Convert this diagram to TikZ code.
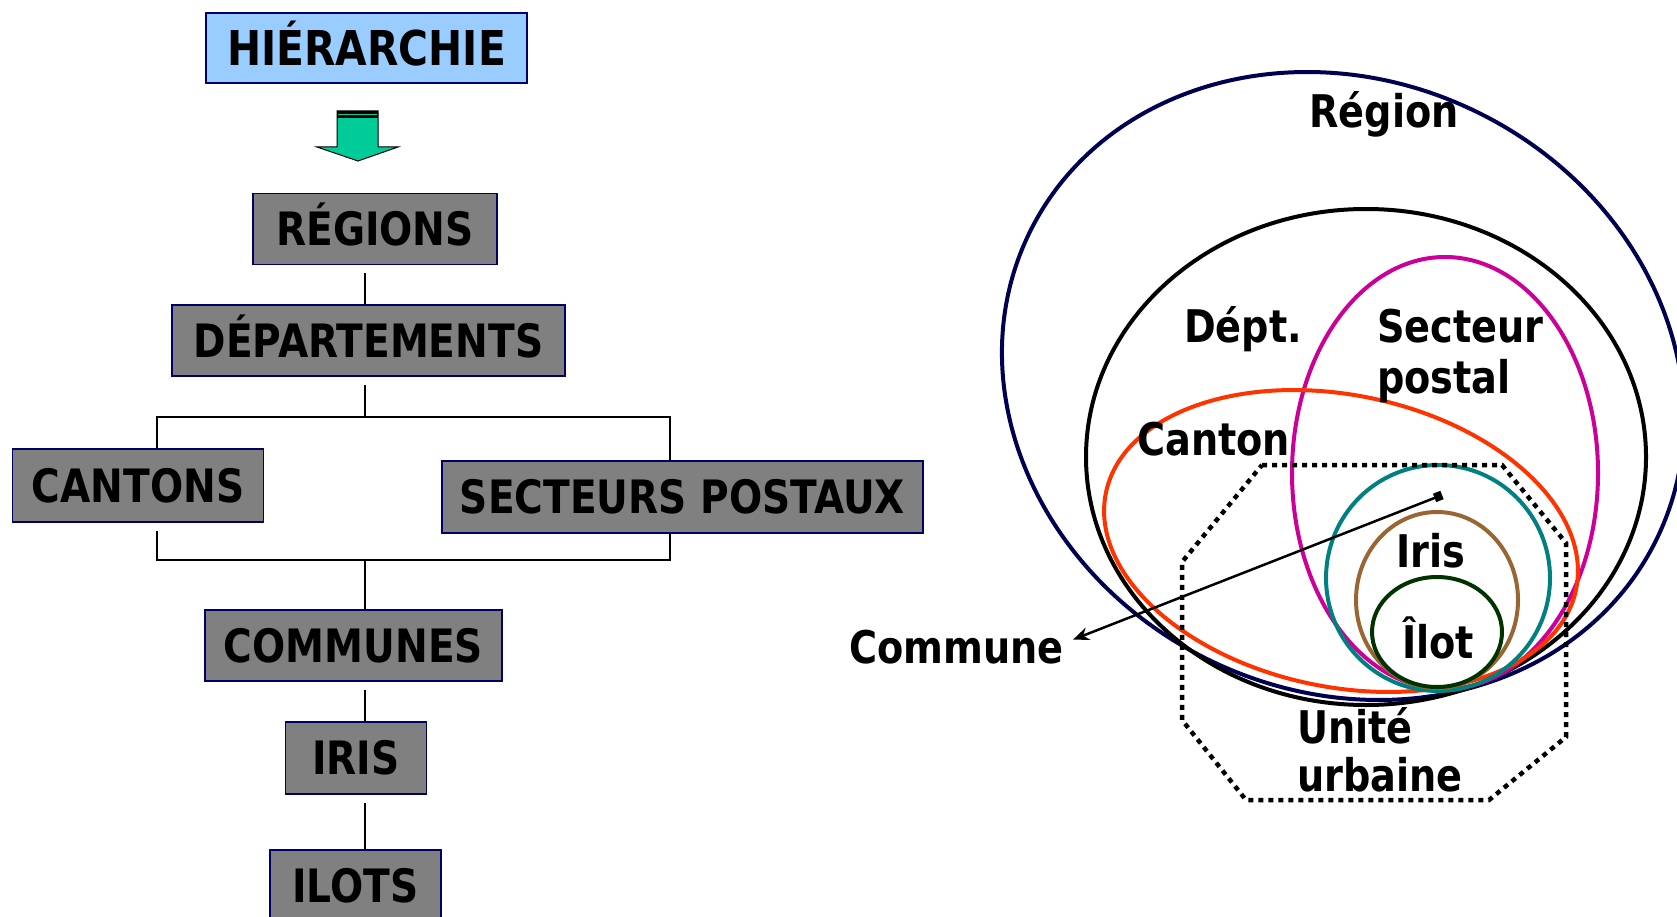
\documentclass[tikz,border=0pt]{standalone}
\usepackage{fontspec}
\newfontfamily\lbl[FakeStretch=0.85]{DejaVu Sans}
\usetikzlibrary{arrows.meta}
\definecolor{boxline}{HTML}{000066}
\definecolor{boxgray}{HTML}{808080}
\definecolor{hierblue}{HTML}{99CCFF}
\definecolor{arrgreen}{HTML}{00CC99}
\definecolor{navy}{HTML}{000050}
\definecolor{magen}{HTML}{CC0099}
\definecolor{cantonred}{HTML}{FF3300}
\definecolor{tealc}{HTML}{008080}
\definecolor{brownc}{HTML}{996633}
\definecolor{greenc}{HTML}{003300}
\begin{document}
\begin{tikzpicture}[x=1pt,y=-1pt,
  box/.style={draw=boxline, line width=1.5pt, fill=boxgray, minimum height=71pt,
    inner sep=0pt, text height=33.5pt, text depth=0pt,
    font=\lbl\bfseries\fontsize{46}{55}\selectfont},
  conn/.style={line width=1.5pt, draw=black},
  ell/.style={line width=4pt},
  lab/.style={font=\lbl\bfseries\fontsize{45}{54}\selectfont, inner sep=0pt}
]
\useasboundingbox (0,0) rectangle (1677,917);

% ---------- hierarchy ----------
\node[box, fill=hierblue, minimum width=321pt, minimum height=70pt, text height=35pt,
  font=\lbl\bfseries\fontsize{48}{58}\selectfont] (hier) at (366.5,48) {HIÉRARCHIE};
\node[box, minimum width=244pt] (regions) at (375,229) {RÉGIONS};
\node[box, minimum width=393pt] (dept) at (368.5,340.5) {DÉPARTEMENTS};
\node[box, minimum width=251pt, minimum height=73pt] (cantons) at (138,485.5) {CANTONS};
\node[box, minimum width=481pt, minimum height=72pt] (secteurs) at (682.5,497) {SECTEURS POSTAUX};
\node[box, minimum width=297pt] (communes) at (353.5,645.5) {COMMUNES};
\node[box, minimum width=141pt, minimum height=72pt] (iris) at (356,758) {IRIS};
\node[box, minimum width=171pt, minimum height=72pt] (ilots) at (355.5,886) {ILOTS};

% block arrow
\draw[fill=arrgreen, line width=1pt] (337,111) -- (378,111) -- (378,147) -- (398,147)
  -- (358,161) -- (317,147) -- (337,147) -- cycle;
\fill[black] (337,111) rectangle (378,118);
\draw[arrgreen, line width=1pt] (338,114.5) -- (377,114.5);

% connectors
\coordinate (T) at (365,0);
\coordinate (L) at (157,0);
\coordinate (R) at (670,0);
\coordinate (bar1) at (365,417);
\coordinate (bar2) at (365,560);
\draw[conn, shorten <=8pt] (regions.south -| T) -- (dept.north -| T);
\draw[conn, shorten <=8pt] (dept.south -| T) -- (bar1);
\draw[conn] (cantons.north -| L) -- (L |- bar1) -- (R |- bar1) -- (secteurs.north -| R);
\draw[conn, shorten <=8pt] (cantons.south -| L) -- (L |- bar2) -- (R |- bar2) -- (secteurs.south -| R);
\draw[conn] (bar2) -- (communes.north -| T);
\draw[conn, shorten <=8pt] (communes.south -| T) -- (iris.north -| T);
\draw[conn, shorten <=8pt] (iris.south -| T) -- (ilots.north -| T);

% ---------- nested areas ----------
\draw[navy, ell, rotate around={-26:(1343,386)}] (1343,386) ellipse [x radius=349pt, y radius=305pt];
\draw[black, ell] (1366,457) ellipse [x radius=280pt, y radius=248pt];
\draw[magen, ell] (1445,473) ellipse [x radius=153pt, y radius=216pt];
\draw[cantonred, ell, rotate around={-11.6:(1341,541)}] (1341,541) ellipse [x radius=240pt, y radius=146pt];
\draw[tealc, ell] (1438,578) ellipse [x radius=112pt, y radius=113pt];
\draw[brownc, ell] (1437,600) ellipse [x radius=81pt, y radius=88pt];
\draw[greenc, ell] (1437,632) ellipse [x radius=65pt, y radius=55pt];

\draw[line width=4.5pt, dash pattern=on 5pt off 5pt]
  (1262,465) -- (1502,465) -- (1566,543) -- (1566,737) -- (1489,800)
  -- (1246,800) -- (1182,720) -- (1182,562) -- cycle;

% labels
\node[lab, anchor=base] (lregion) at (1384,128) {Région};
\node[lab, anchor=base] (ldept) at (1243,342) {Dépt.};
\node[lab, anchor=base west] (lsect) at (1377,342) {Secteur};
\node[lab, anchor=base west] (lpost) at (1377,393) {postal};
\node[lab, anchor=base west] (lcanton) at (1137,455) {Canton};
\node[lab, anchor=base] (liris) at (1431,567) {Iris};
\node[lab, anchor=base] (lilot) at (1438,658) {Îlot};
\node[lab, anchor=base west] (lunite) at (1297,743) {Unité};
\node[lab, anchor=base west] (lurb) at (1297,791) {urbaine};
\node[lab, anchor=base east] (commune) at (1064,663) {Commune};

\coordinate (cpt) at (1442,495);
\draw[line width=2.5pt, {Square[length=8pt,width=9pt]}-{Stealth[length=16pt,width=13pt]}]
  (cpt) -- ([xshift=9pt,yshift=7pt]commune.east);
\end{tikzpicture}
\end{document}
